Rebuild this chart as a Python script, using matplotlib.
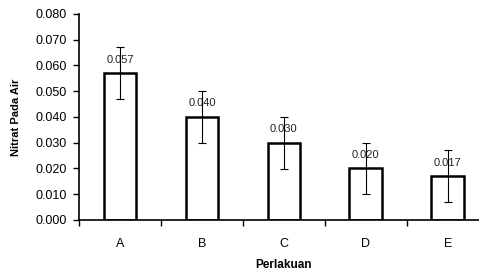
import matplotlib.pyplot as plt
import numpy as np

plt.rcParams['font.family'] = ['Liberation Sans', 'DejaVu Sans']

perlakuan = ['A', 'B', 'C', 'D', 'E']
nitrat = [0.057, 0.040, 0.030, 0.020, 0.017]
galat = [0.010, 0.010, 0.010, 0.010, 0.010]
label_nilai = ['0.057', '0.040', '0.030', '0.020', '0.017']

fig = plt.figure(figsize=(4.79, 2.75), dpi=100)
ax = fig.add_axes([79 / 479, 55 / 275, 400 / 479, 206 / 275])

x = np.arange(len(perlakuan))
ax.bar(x, nitrat, width=0.4, color='white', edgecolor='black', linewidth=1.8, zorder=2)
for i in range(len(x)):
    ax.text(x[i], nitrat[i] + 0.0053, label_nilai[i], ha='center', va='center',
            fontsize=8, color='#222222', zorder=3)
ax.errorbar(x, nitrat, yerr=galat, fmt='none', ecolor='black', elinewidth=0.8,
            capsize=3, capthick=0.8, zorder=4)

ax.set_xlim(-0.5, 4.38)
ax.set_ylim(0, 0.080)
ax.set_yticks(np.arange(0, 0.081, 0.01))
ax.set_yticklabels(['%.3f' % v for v in np.arange(0, 0.081, 0.01)])
ax.set_xticks(x)
ax.set_xticklabels(perlakuan)
ax.set_xticks([-0.5, 0.5, 1.5, 2.5, 3.5], minor=True)
ax.tick_params(axis='x', which='major', length=0, pad=13, labelsize=9)
ax.tick_params(axis='x', which='minor', length=4, width=1, direction='out')
ax.tick_params(axis='y', length=4, width=1, pad=5, labelsize=9)

for s in ['top', 'right']:
    ax.spines[s].set_visible(False)
for s in ['left', 'bottom']:
    ax.spines[s].set_linewidth(1.2)

ax.set_ylabel('Nitrat Pada Air', fontsize=8, fontweight='bold')
ax.yaxis.set_label_coords(-0.145, 0.5)
ax.set_xlabel('Perlakuan', fontsize=8.5, fontweight='bold')
ax.xaxis.set_label_coords(0.51, -0.19)

fig.savefig('out.png', dpi=100)
